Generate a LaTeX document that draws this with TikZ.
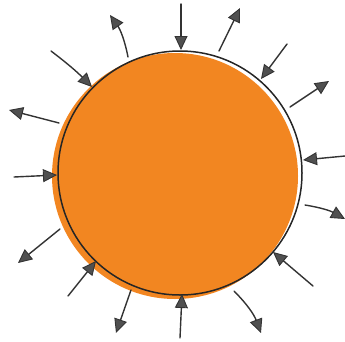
\documentclass[tikz,border=0pt]{standalone}
\usetikzlibrary{arrows.meta}
\definecolor{sunorange}{HTML}{F28621}
\definecolor{inkdark}{HTML}{333333}
\definecolor{headgray}{HTML}{505050}
\tikzset{
  flux/.style={draw=inkdark, line width=1.4pt, line cap=round,
    -{Triangle[length=14pt,width=13pt,fill=headgray,line width=0.9pt]}},
  rim/.style={draw=black!85, line width=1.5pt}
}
\begin{document}
\begin{tikzpicture}[x=1pt,y=1pt]
\useasboundingbox (0,0) rectangle (345,341);
% orange disc, slightly offset
\fill[sunorange] (175,165) circle (123);
% black outline
\draw[rim] (180,168) circle (122);
% arrows (inward and outward)
\coordinate (a1s) at (181,337); \coordinate (a1e) at (181,291);
\coordinate (a2s) at (128,284); \coordinate (a2e) at (110,326);
\coordinate (a3s) at (219,290); \coordinate (a3e) at (240,333);
\coordinate (a4s) at (51,290);  \coordinate (a4e) at (92,254);
\coordinate (a5s) at (287,297); \coordinate (a5e) at (261,262);
\coordinate (a6s) at (290,234); \coordinate (a6e) at (329,260);
\coordinate (a7s) at (59,218);  \coordinate (a7e) at (9,231);
\coordinate (a8s) at (345,185); \coordinate (a8e) at (303,181);
\coordinate (a9s) at (14,164);  \coordinate (a9e) at (57,166);
\coordinate (a10s) at (305,136); \coordinate (a10e) at (345,122);
\coordinate (a11s) at (60,112);  \coordinate (a11e) at (18,78);
\coordinate (a12s) at (313,55);  \coordinate (a12e) at (273,89);
\coordinate (a13s) at (68,45);   \coordinate (a13e) at (96,80);
\coordinate (a14s) at (131,51);  \coordinate (a14e) at (116,8);
\coordinate (a15s) at (180,3);   \coordinate (a15e) at (182,47);
\coordinate (a16s) at (234,50);  \coordinate (a16e) at (261,8);
\draw[flux] (a1s) -- (a1e);
\draw[flux] (a2s) to[bend right=12] (a2e);
\draw[flux] (a3s) -- (a3e);
\draw[flux] (a4s) to[bend left=4] (a4e);
\draw[flux] (a5s) -- (a5e);
\draw[flux] (a6s) -- (a6e);
\draw[flux] (a7s) -- (a7e);
\draw[flux] (a8s) -- (a8e);
\draw[flux] (a9s) -- (a9e);
\draw[flux] (a10s) to[bend left=10] (a10e);
\draw[flux] (a11s) -- (a11e);
\draw[flux] (a12s) -- (a12e);
\draw[flux] (a13s) -- (a13e);
\draw[flux] (a14s) -- (a14e);
\draw[flux] (a15s) -- (a15e);
\draw[flux] (a16s) to[bend left=12] (a16e);
\end{tikzpicture}
\end{document}
